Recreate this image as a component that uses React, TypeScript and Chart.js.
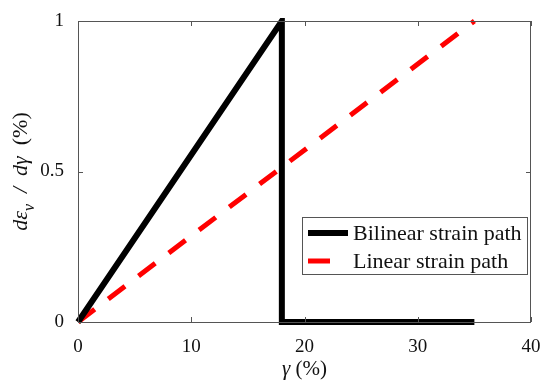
import React, { useEffect, useRef } from "react";
import { Chart, registerables } from "chart.js";

Chart.register(...registerables);

const bilinearX = [0, 18, 18, 35];
const bilinearY = [0, 1, 0, 0];
const linearX = [0, 35];
const linearY = [0, 1];
const seriesLabels = ["Bilinear strain path", "Linear strain path"];
const xTicks = [0, 10, 20, 30, 40];
const yTicks = [0, 0.5, 1];

const FONT = "'Liberation Serif', 'Times New Roman', serif";

const framePlugin = {
  id: "frame",
  afterDatasetsDraw(chart: any) {
    const { ctx, chartArea: a, scales } = chart;
    ctx.save();
    ctx.setLineDash([]);
    ctx.strokeStyle = "#555";
    ctx.lineWidth = 1;
    ctx.strokeRect(a.left + 0.5, a.top + 0.5, a.right - a.left - 1, a.bottom - a.top);
    const tl = 5;
    ctx.beginPath();
    xTicks.forEach((v) => {
      const px = Math.round(scales.x.getPixelForValue(v)) + 0.5;
      ctx.moveTo(px, a.bottom);
      ctx.lineTo(px, a.bottom - tl);
      ctx.moveTo(px, a.top);
      ctx.lineTo(px, a.top + tl);
    });
    yTicks.forEach((v) => {
      const py = Math.round(scales.y.getPixelForValue(v)) + 0.5;
      ctx.moveTo(a.left, py);
      ctx.lineTo(a.left + tl, py);
      ctx.moveTo(a.right, py);
      ctx.lineTo(a.right - tl, py);
    });
    ctx.stroke();

    // legend
    const lx = a.right - 229;
    const ly = a.top + 196;
    const lw = 225;
    const lh = 57;
    ctx.fillStyle = "#fff";
    ctx.fillRect(lx, ly, lw, lh);
    ctx.strokeStyle = "#555";
    ctx.strokeRect(lx + 0.5, ly + 0.5, lw, lh);
    ctx.font = `22px ${FONT}`;
    ctx.textBaseline = "middle";
    ctx.textAlign = "left";
    chart.data.datasets.forEach((ds: any, i: number) => {
      const cy = ly + 16 + i * 28;
      ctx.beginPath();
      ctx.setLineDash([]);
      ctx.lineCap = "butt";
      ctx.strokeStyle = ds.borderColor;
      ctx.lineWidth = ds.borderWidth;
      const len = ds.borderDash ? ds.borderDash[0] + 1 : 40;
      ctx.moveTo(lx + 6, cy);
      ctx.lineTo(lx + 6 + len, cy);
      ctx.stroke();
      ctx.fillStyle = "#111";
      ctx.fillText(ds.label, lx + 51, cy + 1);
    });

    // axis titles
    ctx.fillStyle = "#111";
    ctx.textBaseline = "middle";
    const xParts = [
      { t: "\u03B3", f: `italic 21px ${FONT}` },
      { t: " (%)", f: `21px ${FONT}` },
    ];
    let total = 0;
    xParts.forEach((p) => {
      ctx.font = p.f;
      total += ctx.measureText(p.t).width;
    });
    let x0 = (a.left + a.right) / 2 - total / 2;
    xParts.forEach((p) => {
      ctx.font = p.f;
      ctx.fillText(p.t, x0, 369);
      x0 += ctx.measureText(p.t).width;
    });

    const yParts = [
      { t: "d\u03B5", f: `italic 22px ${FONT}`, dy: 0 },
      { t: "v", f: `italic 16px ${FONT}`, dy: 9 },
      { t: "  /  ", f: `italic 22px ${FONT}`, dy: 0 },
      { t: "d\u03B3", f: `italic 22px ${FONT}`, dy: 0 },
      { t: "  (%)", f: `22px ${FONT}`, dy: 0 },
    ];
    total = 0;
    yParts.forEach((p) => {
      ctx.font = p.f;
      total += ctx.measureText(p.t).width;
    });
    ctx.translate(21, (a.top + a.bottom) / 2);
    ctx.rotate(-Math.PI / 2);
    let s = -total / 2;
    yParts.forEach((p) => {
      ctx.font = p.f;
      ctx.fillText(p.t, s, p.dy);
      s += ctx.measureText(p.t).width;
    });
    ctx.restore();
  },
};

export default function App() {
  const ref = useRef<HTMLCanvasElement>(null);
  useEffect(() => {
    document.body.style.margin = "0";
    const chart = new Chart(ref.current!, {
      type: "scatter",
      data: {
        datasets: [
          {
            label: seriesLabels[0],
            data: bilinearX.map((x, i) => ({ x, y: bilinearY[i] })),
            showLine: true,
            borderColor: "#000",
            borderWidth: 6,
            pointRadius: 0,
            borderCapStyle: "butt",
            borderJoinStyle: "miter",
            clip: 3,
          },
          {
            label: seriesLabels[1],
            data: linearX.map((x, i) => ({ x, y: linearY[i] })),
            showLine: true,
            borderColor: "#ff0000",
            borderWidth: 5,
            borderDash: [21, 17],
            pointRadius: 0,
            clip: 3,
          },
        ],
      },
      options: {
        animation: false,
        responsive: false,
        devicePixelRatio: 1,
        layout: { padding: { top: 21, right: 9, left: 0, bottom: 0 } },
        plugins: { legend: { display: false }, tooltip: { enabled: false } },
        scales: {
          x: {
            type: "linear",
            min: 0,
            max: 40,
            grid: { display: false },
            border: { display: false },
            afterBuildTicks: (sc: any) => {
              sc.ticks = xTicks.map((v) => ({ value: v }));
            },
            ticks: {
              font: { family: FONT, size: 19 },
              color: "#111",
              padding: 6,
              maxRotation: 0,
              callback: (v: any) => String(v),
            },
            afterFit: (sc: any) => {
              sc.height = 59;
              sc.paddingLeft = 0;
              sc.paddingRight = 0;
            },
          },
          y: {
            type: "linear",
            min: 0,
            max: 1,
            grid: { display: false },
            border: { display: false },
            afterBuildTicks: (sc: any) => {
              sc.ticks = yTicks.map((v) => ({ value: v }));
            },
            ticks: {
              font: { family: FONT, size: 19 },
              color: "#111",
              padding: 6,
              callback: (v: any) => String(v),
            },
            afterFit: (sc: any) => {
              sc.width = 78;
              sc.paddingTop = 0;
              sc.paddingBottom = 0;
            },
          },
        },
      },
      plugins: [framePlugin],
    });
    return () => chart.destroy();
  }, []);
  return <canvas ref={ref} width={540} height={381} style={{ display: "block" }} />;
}
